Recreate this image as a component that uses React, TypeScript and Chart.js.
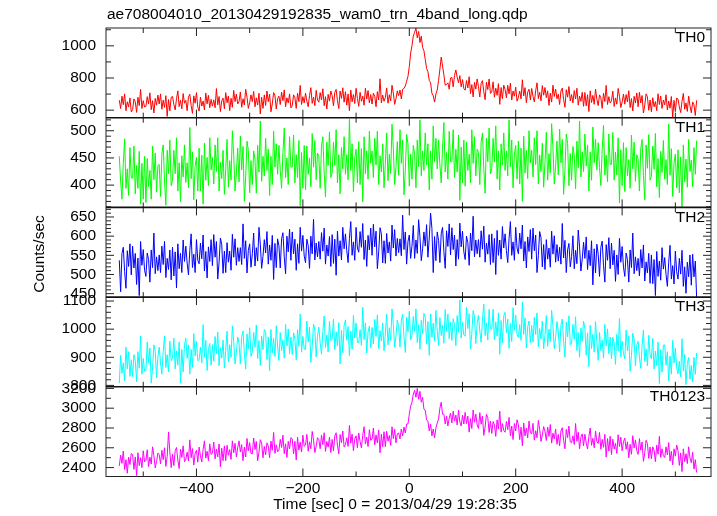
import React, { useEffect, useRef } from 'react';
import { Chart, registerables } from 'chart.js';

Chart.register(...registerables);

const TITLE = 'ae708004010_20130429192835_wam0_trn_4band_long.qdp';
const X_TITLE = 'Time [sec] 0 = 2013/04/29 19:28:35';
const Y_TITLE = 'Counts/sec';
const PANEL_NAMES = ['TH0', 'TH1', 'TH2', 'TH3', 'TH0123'];
const PANEL_COLORS = ['#ff0000', '#00ff00', '#0000ff', '#00ffff', '#ff00ff'];

// time bins (sec): first bin and bin width
const T_START = -545;
const T_STEP = 2.5;

const TH0 = [
  662, 610, 687, 634, 701, 596, 652, 620, 676, 589,
  603, 670, 652, 586, 680, 628, 729, 610, 659, 620,
  624, 684, 638, 708, 603, 659, 582, 673, 631, 694,
  638, 701, 606, 662, 617, 690, 561, 666, 596, 680,
  685, 636, 601, 671, 720, 622, 661, 608, 703, 643,
  661, 597, 681, 699, 629, 580, 689, 643, 709, 619,
  594, 681, 625, 657, 601, 706, 639, 692, 615, 667,
  625, 664, 615, 734, 633, 685, 591, 657, 675, 608,
  709, 646, 688, 597, 674, 618, 723, 653, 699, 639,
  653, 713, 618, 671, 632, 730, 681, 611, 646, 695,
  653, 716, 621, 677, 632, 705, 576, 681, 611, 695,
  629, 719, 653, 699, 590, 639, 709, 691, 607, 671,
  687, 635, 712, 659, 726, 621, 677, 645, 701, 614,
  628, 695, 677, 611, 705, 653, 754, 635, 684, 645,
  705, 656, 621, 691, 740, 642, 681, 628, 723, 663,
  649, 709, 663, 733, 628, 684, 607, 698, 656, 719,
  691, 627, 711, 729, 659, 610, 719, 673, 739, 649,
  715, 631, 701, 596, 725, 652, 697, 641, 736, 673,
  624, 711, 655, 687, 631, 736, 669, 722, 645, 697,
  638, 705, 687, 621, 715, 663, 795, 645, 694, 655,
  678, 738, 643, 696, 657, 755, 706, 636, 671, 720,
  690, 725, 670, 730, 735, 750, 780, 810, 870, 955,
  1000, 1060, 1085, 1110, 1050, 1090, 1020, 1060, 990, 970,
  915, 860, 840, 785, 770, 705, 690, 650, 700, 725,
  785, 855, 930, 875, 820, 755, 760, 770, 730, 800,
  805, 745, 815, 850, 805, 770, 815, 745, 790, 735,
  724, 784, 738, 808, 703, 759, 682, 773, 731, 794,
  746, 682, 766, 784, 714, 665, 774, 728, 794, 704,
  713, 776, 681, 737, 692, 765, 636, 741, 671, 755,
  729, 677, 754, 701, 768, 663, 719, 687, 743, 656,
  680, 719, 670, 789, 688, 740, 646, 712, 730, 663,
  735, 686, 651, 721, 770, 672, 711, 658, 753, 693,
  741, 678, 720, 629, 706, 650, 755, 685, 731, 671,
  699, 635, 719, 737, 667, 618, 727, 681, 747, 657,
  697, 645, 722, 669, 736, 631, 687, 655, 711, 624,
  710, 626, 696, 591, 720, 647, 692, 636, 731, 668,
  628, 695, 677, 611, 705, 653, 754, 635, 684, 645,
  658, 718, 623, 676, 637, 735, 686, 616, 651, 700,
  637, 697, 651, 721, 616, 672, 595, 686, 644, 707,
  621, 711, 645, 691, 582, 631, 701, 683, 599, 663,
  590, 677, 621, 653, 597, 702, 635, 688, 611, 663,
  633, 696, 601, 657, 612, 685, 556, 661, 591, 675,
  669, 620, 585, 655, 704, 606, 645, 592, 687, 627,
  584, 651, 633, 567, 661,
];

const TH1 = [
  453, 407, 374, 440, 485, 394, 430, 381, 469, 413,
  413, 472, 384, 436, 394, 462, 365, 440, 374, 453,
  368, 449, 397, 427, 374, 472, 410, 459, 387, 436,
  438, 379, 457, 474, 408, 363, 464, 421, 483, 399,
  408, 464, 421, 487, 389, 441, 369, 454, 415, 474,
  405, 441, 395, 506, 412, 461, 373, 435, 451, 389,
  468, 389, 455, 365, 477, 409, 451, 399, 487, 428,
  451, 402, 474, 425, 487, 389, 442, 412, 464, 383,
  428, 484, 396, 445, 409, 500, 455, 389, 422, 468,
  406, 490, 428, 471, 370, 415, 481, 464, 386, 445,
  401, 463, 447, 385, 473, 424, 518, 407, 453, 417,
  486, 427, 466, 381, 453, 401, 499, 433, 476, 420,
  473, 427, 394, 460, 505, 414, 450, 401, 489, 433,
  433, 492, 404, 456, 414, 482, 362, 460, 394, 473,
  391, 472, 420, 450, 397, 495, 433, 482, 410, 459,
  453, 394, 472, 489, 423, 378, 479, 436, 498, 414,
  423, 479, 436, 502, 404, 456, 384, 469, 430, 489,
  420, 456, 410, 521, 427, 476, 388, 450, 466, 404,
  480, 401, 467, 369, 489, 421, 463, 411, 499, 440,
  463, 414, 486, 437, 499, 401, 454, 424, 476, 395,
  440, 496, 408, 457, 421, 512, 467, 401, 434, 480,
  418, 502, 440, 483, 382, 427, 493, 476, 398, 457,
  411, 473, 457, 395, 483, 434, 520, 417, 463, 427,
  496, 437, 476, 391, 463, 411, 509, 443, 486, 430,
  483, 437, 404, 470, 515, 424, 460, 411, 499, 443,
  443, 502, 414, 466, 424, 492, 372, 470, 404, 483,
  398, 479, 427, 457, 404, 502, 440, 489, 417, 466,
  460, 401, 479, 496, 430, 385, 486, 443, 505, 421,
  430, 486, 443, 509, 411, 463, 391, 476, 437, 496,
  427, 463, 417, 520, 434, 483, 395, 457, 473, 411,
  481, 402, 468, 370, 490, 422, 464, 412, 500, 441,
  464, 415, 487, 438, 500, 402, 455, 425, 477, 396,
  441, 497, 409, 458, 422, 513, 468, 402, 435, 481,
  419, 503, 441, 484, 383, 428, 494, 477, 399, 458,
  409, 471, 455, 393, 481, 432, 518, 415, 461, 425,
  494, 435, 474, 389, 461, 409, 507, 441, 484, 428,
  478, 432, 399, 465, 510, 419, 455, 406, 494, 438,
  438, 497, 409, 461, 419, 487, 367, 465, 399, 478,
  388, 469, 417, 447, 394, 492, 430, 479, 407, 456,
  448, 389, 467, 484, 418, 373, 474, 431, 493, 409,
  416, 472, 429, 495, 397, 449, 377, 462, 423, 482,
  411, 447, 401, 512, 418, 467, 379, 441, 457, 395,
  465, 386, 452, 360, 474, 406, 448, 396, 484, 425,
  446, 397, 469, 420, 482,
];

const TH2 = [
  537, 455, 555, 571, 508, 464, 562, 521, 580, 499,
  574, 517, 555, 474, 543, 445, 586, 524, 565, 511,
  495, 556, 539, 480, 564, 518, 608, 502, 546, 510,
  551, 505, 574, 526, 586, 492, 542, 513, 564, 486,
  571, 496, 559, 465, 580, 515, 555, 505, 590, 534,
  574, 530, 499, 562, 606, 518, 553, 505, 591, 537,
  528, 582, 541, 603, 509, 560, 491, 572, 534, 591,
  523, 604, 545, 586, 488, 532, 595, 579, 503, 561,
  505, 583, 532, 561, 511, 605, 545, 593, 524, 570,
  534, 570, 526, 632, 542, 588, 504, 563, 580, 519,
  554, 608, 522, 570, 535, 623, 579, 516, 547, 591,
  556, 612, 527, 577, 537, 602, 487, 581, 518, 593,
  575, 517, 593, 609, 546, 502, 600, 559, 618, 537,
  611, 554, 592, 511, 580, 529, 623, 561, 602, 548,
  531, 592, 575, 516, 600, 554, 644, 538, 582, 546,
  586, 540, 609, 561, 621, 527, 577, 548, 599, 521,
  604, 529, 592, 498, 613, 548, 588, 538, 623, 567,
  606, 562, 531, 594, 638, 550, 585, 537, 623, 569,
  558, 612, 571, 633, 539, 590, 521, 602, 564, 621,
  550, 631, 572, 613, 515, 559, 622, 606, 530, 588,
  529, 607, 556, 585, 535, 629, 569, 617, 548, 594,
  557, 593, 549, 655, 565, 611, 527, 586, 603, 542,
  574, 628, 542, 590, 555, 643, 599, 536, 567, 611,
  574, 630, 545, 595, 660, 620, 505, 599, 536, 611,
  589, 531, 607, 623, 560, 516, 614, 573, 632, 551,
  622, 565, 603, 522, 591, 540, 634, 572, 613, 559,
  539, 600, 583, 524, 608, 562, 652, 546, 590, 554,
  591, 545, 614, 566, 626, 532, 582, 553, 604, 526,
  606, 531, 594, 500, 615, 550, 590, 540, 625, 569,
  606, 562, 531, 594, 638, 550, 585, 537, 623, 569,
  554, 608, 567, 629, 535, 586, 517, 598, 560, 617,
  540, 621, 562, 603, 505, 549, 612, 596, 520, 578,
  513, 591, 540, 569, 519, 613, 553, 601, 532, 578,
  535, 571, 527, 633, 543, 589, 505, 564, 581, 520,
  547, 601, 515, 563, 528, 616, 572, 509, 540, 584,
  542, 598, 513, 563, 523, 588, 473, 567, 504, 579,
  553, 495, 571, 587, 524, 480, 578, 537, 596, 515,
  582, 525, 563, 482, 551, 500, 594, 532, 573, 519,
  495, 556, 539, 480, 564, 518, 608, 502, 546, 510,
  542, 496, 565, 517, 577, 483, 533, 504, 555, 477,
  551, 476, 539, 445, 560, 495, 535, 485, 570, 514,
  544, 500, 469, 532, 576, 488, 523, 475, 561, 507,
  488, 542, 501, 563, 469, 520, 451, 532, 494, 551,
  472, 553, 494, 535, 440,
];

const TH3 = [
  808, 907, 843, 880, 816, 936, 859, 920, 832, 891,
  832, 909, 888, 813, 920, 861, 976, 840, 896, 851,
  853, 955, 880, 933, 808, 864, 944, 923, 827, 901,
  936, 880, 840, 920, 976, 864, 909, 848, 957, 888,
  896, 968, 859, 923, 872, 955, 808, 928, 848, 944,
  968, 896, 944, 840, 928, 864, 984, 904, 957, 888,
  891, 936, 880, 1016, 901, 960, 853, 928, 949, 872,
  945, 886, 974, 913, 990, 870, 934, 897, 961, 862,
  924, 993, 884, 945, 900, 1012, 956, 876, 916, 972,
  951, 877, 973, 994, 914, 858, 983, 930, 1005, 903,
  919, 988, 935, 1015, 895, 959, 871, 975, 927, 999,
  988, 892, 972, 852, 999, 916, 967, 903, 1012, 940,
  889, 988, 924, 961, 897, 1017, 940, 1001, 913, 972,
  910, 987, 966, 891, 998, 939, 1054, 918, 974, 929,
  927, 1029, 954, 1007, 882, 938, 1018, 997, 901, 975,
  1007, 951, 911, 991, 1047, 935, 980, 919, 1028, 959,
  964, 1036, 927, 991, 940, 1023, 876, 996, 916, 1012,
  1033, 961, 1009, 905, 993, 929, 1049, 969, 1022, 953,
  953, 998, 942, 1078, 963, 1022, 915, 990, 1011, 934,
  1006, 947, 1035, 974, 1051, 931, 995, 958, 1022, 923,
  984, 1053, 944, 1005, 960, 1072, 1016, 936, 976, 1032,
  1010, 936, 1032, 1053, 973, 917, 1042, 989, 1064, 962,
  976, 1045, 992, 1072, 952, 1016, 928, 1032, 984, 1056,
  1043, 947, 1027, 907, 1054, 971, 1022, 958, 1067, 995,
  942, 1041, 977, 1014, 950, 1070, 993, 1054, 966, 1025,
  960, 1037, 1016, 941, 1048, 989, 1104, 968, 1024, 979,
  975, 1077, 1002, 1055, 930, 986, 1066, 1045, 949, 1023,
  1049, 993, 953, 1033, 1089, 977, 1022, 961, 1070, 1001,
  999, 1071, 962, 1026, 975, 1058, 911, 1031, 951, 1047,
  1060, 988, 1036, 932, 1020, 956, 1076, 996, 1049, 980,
  971, 1016, 960, 1096, 981, 1040, 933, 1008, 1029, 952,
  1013, 954, 1042, 981, 1058, 938, 1002, 965, 1029, 930,
  979, 1048, 939, 1000, 955, 1067, 1011, 931, 971, 1027,
  993, 919, 1015, 1036, 956, 900, 1025, 972, 1047, 945,
  948, 1017, 964, 1044, 924, 988, 900, 1004, 956, 1028,
  1003, 907, 987, 867, 1014, 931, 982, 918, 1027, 955,
  889, 988, 924, 961, 897, 1017, 940, 1001, 913, 972,
  894, 971, 950, 875, 982, 923, 1038, 902, 958, 913,
  895, 997, 922, 975, 850, 906, 986, 965, 869, 943,
  957, 901, 861, 941, 997, 885, 930, 869, 978, 909,
  895, 967, 858, 922, 871, 954, 807, 927, 847, 943,
  944, 872, 920, 816, 904, 840, 960, 880, 933, 864,
  841, 886, 830, 966, 851, 910, 803, 878, 899, 822,
  871, 812, 900, 839, 916,
];

const TH0123 = [
  2417, 2525, 2443, 2567, 2380, 2480, 2343, 2505, 2430, 2543,
  2532, 2382, 2508, 2320, 2550, 2420, 2500, 2400, 2570, 2458,
  2473, 2580, 2410, 2505, 2435, 2610, 2523, 2397, 2460, 2547,
  2530, 2438, 2575, 2480, 2600, 2412, 2512, 2760, 2555, 2400,
  2535, 2420, 2570, 2603, 2477, 2390, 2585, 2503, 2620, 2460,
  2485, 2555, 2468, 2680, 2500, 2592, 2425, 2542, 2575, 2455,
  2607, 2520, 2457, 2583, 2670, 2495, 2565, 2470, 2640, 2533,
  2546, 2658, 2488, 2588, 2508, 2638, 2408, 2596, 2470, 2620,
  2470, 2625, 2525, 2582, 2482, 2670, 2550, 2645, 2508, 2600,
  2670, 2557, 2632, 2470, 2607, 2507, 2694, 2570, 2652, 2544,
  2539, 2699, 2582, 2664, 2469, 2556, 2682, 2649, 2499, 2614,
  2530, 2650, 2617, 2500, 2667, 2575, 2755, 2543, 2630, 2560,
  2577, 2685, 2603, 2727, 2540, 2640, 2503, 2665, 2590, 2703,
  2689, 2539, 2665, 2477, 2707, 2577, 2657, 2557, 2727, 2615,
  2628, 2735, 2565, 2660, 2590, 2765, 2678, 2552, 2615, 2702,
  2682, 2590, 2727, 2632, 2752, 2564, 2664, 2607, 2707, 2552,
  2684, 2569, 2719, 2752, 2626, 2539, 2734, 2652, 2769, 2609,
  2631, 2701, 2614, 2826, 2646, 2738, 2571, 2688, 2721, 2601,
  2750, 2663, 2600, 2726, 2813, 2638, 2708, 2613, 2783, 2676,
  2688, 2800, 2630, 2730, 2650, 2780, 2550, 2738, 2612, 2762,
  2612, 2767, 2667, 2724, 2624, 2812, 2692, 2787, 2650, 2742,
  2750, 2690, 2790, 2720, 2810, 2750, 2840, 2840, 2940, 3020,
  3060, 3140, 3180, 3110, 3200, 3090, 3170, 3060, 3110, 2990,
  2980, 2880, 2870, 2770, 2840, 2720, 2790, 2700, 2800, 2850,
  2890, 3000, 3060, 2940, 2940, 2840, 2920, 2820, 2900, 2950,
  2850, 2970, 2870, 2930, 2830, 2980, 2860, 2820, 2930, 2840,
  2958, 2845, 2920, 2758, 2895, 2795, 2982, 2858, 2940, 2832,
  2795, 2955, 2838, 2920, 2725, 2812, 2938, 2905, 2755, 2870,
  2745, 2865, 2832, 2715, 2882, 2790, 2970, 2758, 2845, 2775,
  2757, 2865, 2783, 2907, 2720, 2820, 2683, 2845, 2770, 2883,
  2832, 2682, 2808, 2620, 2850, 2720, 2800, 2700, 2870, 2758,
  2740, 2847, 2677, 2772, 2702, 2877, 2790, 2664, 2727, 2814,
  2765, 2673, 2810, 2715, 2835, 2647, 2747, 2690, 2790, 2635,
  2735, 2620, 2770, 2803, 2677, 2590, 2785, 2703, 2820, 2660,
  2650, 2720, 2633, 2845, 2665, 2757, 2590, 2707, 2740, 2620,
  2737, 2650, 2587, 2713, 2800, 2625, 2695, 2600, 2770, 2663,
  2643, 2755, 2585, 2685, 2605, 2735, 2505, 2693, 2567, 2717,
  2532, 2687, 2587, 2644, 2544, 2732, 2612, 2707, 2570, 2662,
  2698, 2585, 2660, 2498, 2635, 2535, 2722, 2598, 2680, 2572,
  2533, 2693, 2576, 2658, 2463, 2550, 2676, 2643, 2493, 2608,
  2490, 2610, 2577, 2460, 2627, 2535, 2715, 2503, 2590, 2520,
  2502, 2610, 2528, 2652, 2465, 2565, 2428, 2590, 2515, 2628,
  2572, 2422, 2548, 2360, 2590, 2460, 2540, 2440, 2610, 2498,
  2448, 2555, 2385, 2480, 2350,
];

const SERIES = [TH0, TH1, TH2, TH3, TH0123];

const X_MIN = -570;
const X_MAX = 567;
const X_TICKS = [-400, -200, 0, 200, 400];
const X_MINOR_STEP = 100;

const Y_MIN = [553, 359, 441, 795, 2310];
const Y_MAX = [1111, 524, 675, 1114, 3216];
const Y_TICKS_TH0 = [600, 800, 1000];
const Y_TICKS_TH1 = [400, 450, 500];
const Y_TICKS_TH2 = [450, 500, 550, 600, 650];
const Y_TICKS_TH3 = [800, 900, 1000, 1100];
const Y_TICKS_TH0123 = [2400, 2600, 2800, 3000, 3200];
const Y_TICKS = [Y_TICKS_TH0, Y_TICKS_TH1, Y_TICKS_TH2, Y_TICKS_TH3, Y_TICKS_TH0123];
const Y_MINOR_STEP = [100, 10, 10, 20, 100];

const FONT = '"Liberation Sans", Arial, Helvetica, sans-serif';
const FSIZE = 15.5;

const framePlugin = {
  id: 'qdpFrame',
  beforeDatasetDraw(chart: any, args: any) {
    const ys = chart.scales[args.meta.yAxisID];
    const ca = chart.chartArea;
    const ctx = chart.ctx;
    ctx.save();
    ctx.beginPath();
    ctx.rect(ca.left, ys.top, ca.right - ca.left, ys.bottom - ys.top);
    ctx.clip();
  },
  afterDatasetDraw(chart: any) {
    chart.ctx.restore();
  },
  afterDraw(chart: any) {
    const ctx = chart.ctx;
    const ca = chart.chartArea;
    const xs = chart.scales.x;
    ctx.save();
    ctx.strokeStyle = '#222';
    ctx.lineWidth = 1;
    for (let p = 0; p < 5; p++) {
      const ys = chart.scales['y' + p];
      const top = ys.top;
      const bottom = ys.bottom;
      ctx.beginPath();
      const ms = Y_MINOR_STEP[p];
      for (let v = Math.ceil(ys.min / ms) * ms; v <= ys.max; v += ms) {
        const y = ys.getPixelForValue(v);
        const len = Y_TICKS[p].includes(v) ? 8 : 5;
        ctx.moveTo(ca.left, y);
        ctx.lineTo(ca.left + len, y);
        ctx.moveTo(ca.right, y);
        ctx.lineTo(ca.right - len, y);
      }
      for (let v = Math.ceil(X_MIN / X_MINOR_STEP) * X_MINOR_STEP; v <= X_MAX; v += X_MINOR_STEP) {
        const x = xs.getPixelForValue(v);
        const len = X_TICKS.includes(v) ? 8 : 5;
        ctx.moveTo(x, top);
        ctx.lineTo(x, top + len);
        ctx.moveTo(x, bottom);
        ctx.lineTo(x, bottom - len);
      }
      ctx.stroke();
      ctx.fillStyle = '#000';
      ctx.font = `${FSIZE}px ${FONT}`;
      ctx.textAlign = 'right';
      ctx.textBaseline = 'middle';
      ctx.fillText(PANEL_NAMES[p], ca.right - 6, top + 10);
    }
    ctx.lineWidth = 1;
    ctx.strokeRect(ca.left, ca.top, ca.right - ca.left, ca.bottom - ca.top);
    ctx.lineWidth = 1.6;
    ctx.strokeStyle = '#111';
    for (let p = 1; p < 5; p++) {
      const y = chart.scales['y' + p].top;
      ctx.beginPath();
      ctx.moveTo(ca.left, y);
      ctx.lineTo(ca.right, y);
      ctx.stroke();
    }
    ctx.fillStyle = '#000';
    ctx.font = `${FSIZE}px ${FONT}`;
    ctx.textBaseline = 'middle';
    ctx.textAlign = 'left';
    ctx.fillText(TITLE, 107, 15);
    ctx.textAlign = 'center';
    ctx.fillText(X_TITLE, 395, 505);
    ctx.translate(39.5, 254);
    ctx.rotate(-Math.PI / 2);
    ctx.fillText(Y_TITLE, 0, 0);
    ctx.restore();
  },
};

export default function App() {
  const ref = useRef<HTMLCanvasElement>(null);
  useEffect(() => {
    const datasets = SERIES.map((s, p) => ({
      label: PANEL_NAMES[p],
      data: s.map((v, i) => ({ x: T_START + i * T_STEP, y: v })),
      yAxisID: 'y' + p,
      xAxisID: 'x',
      borderColor: PANEL_COLORS[p],
      backgroundColor: PANEL_COLORS[p],
      borderWidth: 1,
      pointRadius: 0,
      tension: 0,
      fill: false,
      borderJoinStyle: 'round' as const,
    }));
    const scales: any = {
      x: {
        type: 'linear',
        min: X_MIN,
        max: X_MAX,
        afterBuildTicks: (s: any) => {
          s.ticks = X_TICKS.map((v) => ({ value: v }));
        },
        afterFit: (s: any) => {
          s.height = 39.5;
        },
        grid: { display: false, drawTicks: false },
        border: { display: false },
        ticks: {
          color: '#000',
          font: { family: FONT, size: FSIZE },
          padding: 3,
          maxRotation: 0,
          autoSkip: false,
          callback: (v: any) => (v < 0 ? '\u2212' + Math.abs(v) : String(v)),
        },
      },
    };
    for (let p = 0; p < 5; p++) {
      scales['y' + p] = {
        type: 'linear',
        position: 'left',
        stack: 'panels',
        stackWeight: 1,
        weight: 10 - p,
        min: Y_MIN[p],
        max: Y_MAX[p],
        afterBuildTicks: (s: any) => {
          s.ticks = Y_TICKS[p].map((v) => ({ value: v }));
        },
        afterFit: (s: any) => {
          s.width = 106;
        },
        grid: { display: false, drawTicks: false },
        border: { display: false },
        ticks: {
          color: '#000',
          font: { family: FONT, size: FSIZE },
          padding: 10,
          autoSkip: false,
          callback: (v: any) => String(v),
        },
      };
    }
    const chart = new Chart(ref.current as HTMLCanvasElement, {
      type: 'line',
      data: { datasets },
      options: {
        responsive: false,
        animation: false,
        devicePixelRatio: 1,
        layout: { padding: { left: 0, right: 6, top: 28, bottom: 0 } },
        plugins: { legend: { display: false }, tooltip: { enabled: false }, title: { display: false } },
        scales,
      } as any,
      plugins: [framePlugin],
    });
    return () => chart.destroy();
  }, []);
  return (
    <div style={{ position: 'absolute', left: 0, top: 0, width: 717, height: 516, background: '#fff' }}>
      <canvas ref={ref} width={717} height={516} style={{ display: 'block', width: 717, height: 516 }} />
    </div>
  );
}
